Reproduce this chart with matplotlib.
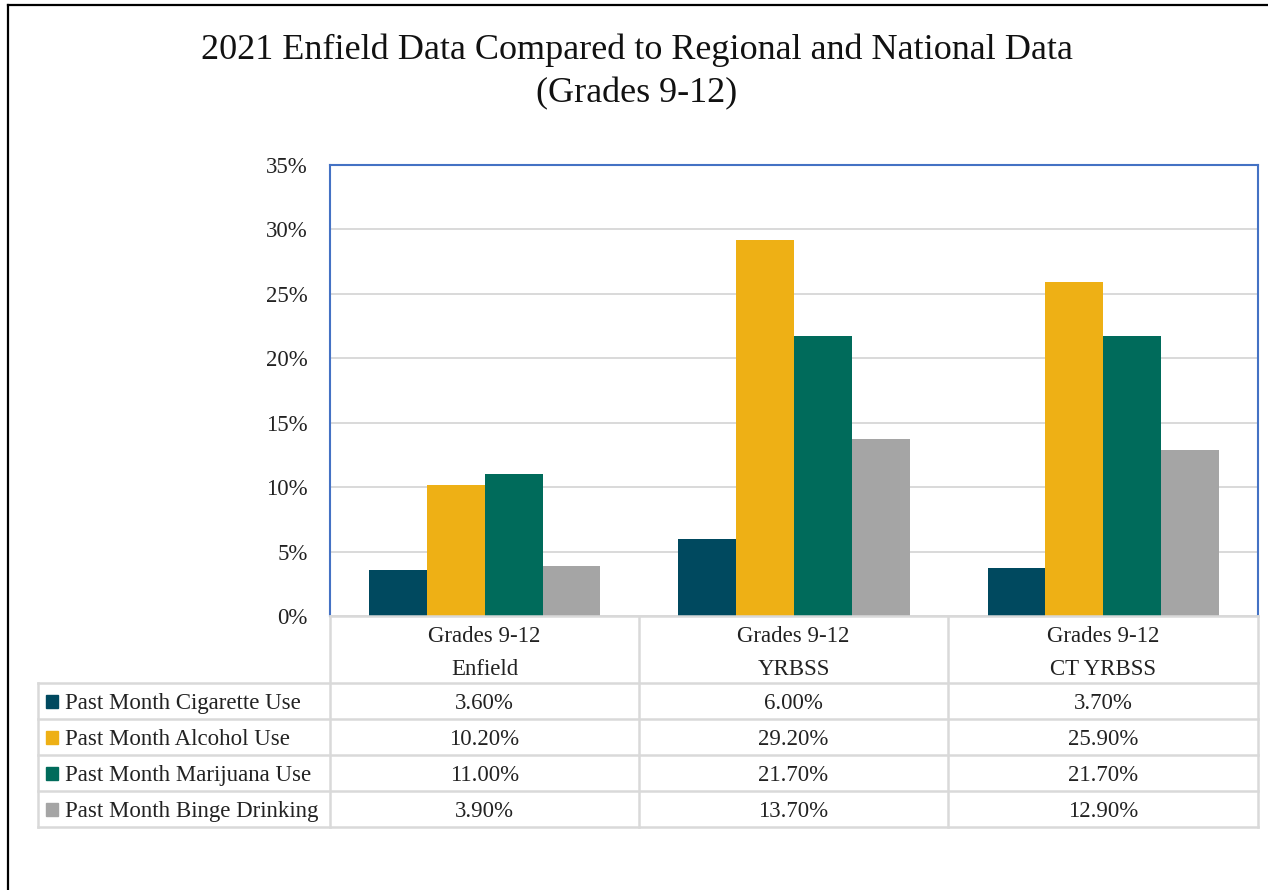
import matplotlib
matplotlib.use("Agg")
import matplotlib.pyplot as plt
from matplotlib.patches import Rectangle
from matplotlib.lines import Line2D
import numpy as np

plt.rcParams['font.family'] = ['Liberation Serif', 'DejaVu Serif']

# ---------------- data ----------------
groups_top = ["Grades 9-12", "Grades 9-12", "Grades 9-12"]
groups_bottom = ["Enfield", "YRBSS", "CT YRBSS"]
series_names = ["Past Month Cigarette Use", "Past Month Alcohol Use",
                "Past Month Marijuana Use", "Past Month Binge Drinking"]
cigarette = [3.6, 6.0, 3.7]
alcohol = [10.2, 29.2, 25.9]
marijuana = [11.0, 21.7, 21.7]
binge = [3.9, 13.7, 12.9]
colors = ["#00495F", "#EEB015", "#006B5B", "#A5A5A5"]
yticks = [0, 5, 10, 15, 20, 25, 30, 35]

series = [cigarette, alcohol, marijuana, binge]

W, H = 1268, 890
fig = plt.figure(figsize=(W / 100, H / 100), dpi=100)

def fx(px):
    return px / W

def fy(py):
    return 1 - py / H

# plot area in pixels
L, R, T, B = 330, 1258, 165, 616
ax = fig.add_axes([fx(L), fy(B), fx(R - L), (B - T) / H])

x = np.arange(len(groups_bottom))
bw = 0.187
for i, (vals, c) in enumerate(zip(series, colors)):
    ax.bar(x + (i - 1.5) * bw, vals, width=bw, color=c, zorder=3)

ax.set_xlim(-0.5, len(groups_bottom) - 0.5)
ax.set_ylim(0, 35)
ax.set_yticks(yticks)
ax.set_yticklabels([f"{v}%" for v in yticks], fontsize=16.5, color="#222222")
ax.tick_params(axis='y', length=0, pad=16)
ax.set_xticks([])
ax.yaxis.grid(True, color="#D9D9D9", linewidth=1.4, zorder=0)
ax.set_axisbelow(True)
for s in ["left", "top", "right"]:
    ax.spines[s].set_color("#4472C4")
    ax.spines[s].set_linewidth(1.5)
ax.spines["bottom"].set_visible(False)

# ---------------- overlay for title, table and frame ----------------
ov = fig.add_axes([0, 0, 1, 1], facecolor="none")
ov.set_xlim(0, W)
ov.set_ylim(H, 0)
ov.axis("off")

# outer frame (left and top)
ov.add_line(Line2D([8, 8], [5, H], color="black", linewidth=1.6))
ov.add_line(Line2D([8, W], [5, 5], color="black", linewidth=1.6))

# title
ov.text(637, 46, "2021 Enfield Data Compared to Regional and National Data",
        ha="center", va="center_baseline", fontsize=26, color="#111111")
ov.text(637, 90, "(Grades 9-12)", ha="center", va="center_baseline",
        fontsize=26, color="#111111")

# data table
gc = "#D9D9D9"
lw = 1.8
col_edges = [L, 639, 948, R]
row_edges = [683, 719, 755, 791, 827]
tab_left = 38
# horizontal lines
ov.add_line(Line2D([L, R], [B, B], color=gc, linewidth=lw))
for ry in row_edges:
    ov.add_line(Line2D([tab_left, R], [ry, ry], color=gc, linewidth=lw))
# vertical lines
for cx in col_edges:
    ov.add_line(Line2D([cx, cx], [B, row_edges[-1]], color=gc, linewidth=lw))
ov.add_line(Line2D([tab_left, tab_left], [row_edges[0], row_edges[-1]],
                   color=gc, linewidth=lw))

fs = 16.5
centers = [(col_edges[j] + col_edges[j + 1]) / 2 for j in range(3)]
for j in range(3):
    ov.text(centers[j], 634, groups_top[j], ha="center", va="center_baseline",
            fontsize=fs, color="#222222")
    ov.text(centers[j], 667, groups_bottom[j], ha="center",
            va="center_baseline", fontsize=fs, color="#222222")

for i, (name, vals, c) in enumerate(zip(series_names, series, colors)):
    cy = (row_edges[i] + row_edges[i + 1]) / 2
    ov.add_patch(Rectangle((46, cy - 6.5), 12, 13, color=c))
    ov.text(65, cy, name, ha="left", va="center_baseline", fontsize=fs,
            color="#222222")
    for j in range(3):
        ov.text(centers[j], cy, f"{vals[j]:.2f}%", ha="center",
                va="center_baseline", fontsize=fs, color="#222222")

fig.savefig("out.png", dpi=100)
